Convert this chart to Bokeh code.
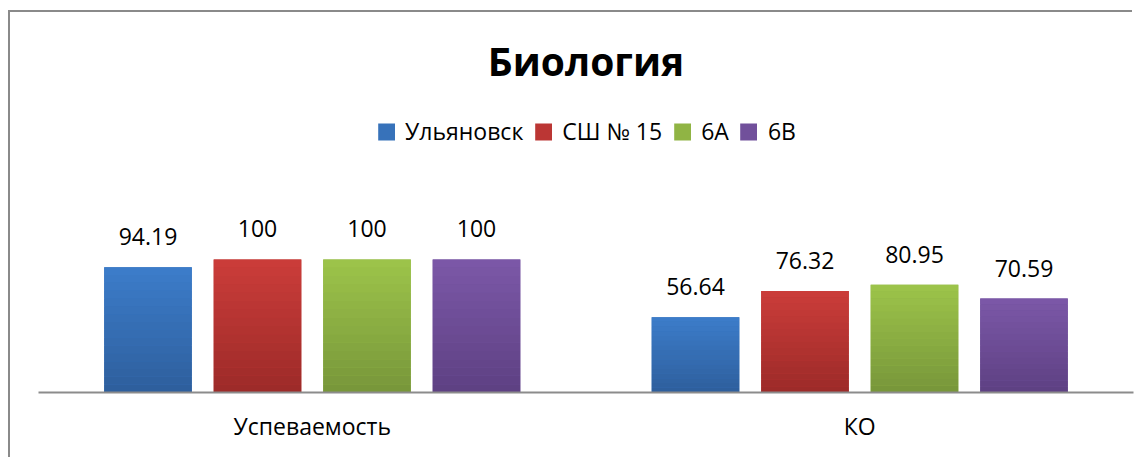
from bokeh.plotting import figure
from bokeh.models import (ColumnDataSource, FactorRange, Range1d, LabelSet,
                          Legend, LegendItem, Title)
from bokeh.core.properties import value
from bokeh.transform import dodge
from bokeh.embed import file_html
from bokeh.resources import INLINE

categories = ["Успеваемость", "КО"]
series = ["Ульяновск", "СШ № 15", "6А", "6В"]
ulyanovsk = [94.19, 56.64]
sh15 = [100, 76.32]
k6a = [100, 80.95]
k6v = [100, 70.59]
top_colors = ["#3C7DCA", "#CB3D3A", "#9DC44A", "#7C58A8"]
bottom_colors = ["#2E5E9C", "#9C2A28", "#77963A", "#5D4082"]

FONT = "Open Sans"
BANDS = 16


def hex2rgb(h):
    return tuple(int(h[i:i + 2], 16) for i in (1, 3, 5))


def mix(c1, c2, t):
    a, b = hex2rgb(c1), hex2rgb(c2)
    return "#%02x%02x%02x" % tuple(round(a[k] + (b[k] - a[k]) * t) for k in range(3))


values = [ulyanovsk, sh15, k6a, k6v]
data = {"cat": categories}
for i, v in enumerate(values):
    data[f"s{i}"] = v
    data[f"t{i}"] = [f"{x:g}" for x in v]
    for j in range(BANDS):
        data[f"b{i}_{j}"] = [x * j / BANDS for x in v]
        data[f"e{i}_{j}"] = [x * (j + 1) / BANDS for x in v]
src = ColumnDataSource(data)

p = figure(width=1148, height=457, output_backend="svg", toolbar_location=None,
           x_range=FactorRange(*categories), y_range=Range1d(0, 227),
           y_axis_location=None, min_border_top=90, min_border_bottom=65,
           min_border_left=38, min_border_right=15, outline_line_color=None,
           background_fill_color=None, border_fill_color=None)

# chart-area frame (top and left edges visible in the crop)
p.styles = {
    "background-color": "#ffffff",
    "background-image": "linear-gradient(#8a8a8a, #8a8a8a), linear-gradient(#8a8a8a, #8a8a8a)",
    "background-position": "8px 10px, 8px 10px",
    "background-size": "1124px 2px, 2px 447px",
    "background-repeat": "no-repeat, no-repeat",
}

p.title = Title(text="Биология", align="center", text_font=FONT,
                text_font_size="39px", text_font_style="bold",
                text_color="#000000", standoff=8)

offsets = [-0.3, -0.1, 0.1, 0.3]
items = []
for i in range(4):
    xs = dodge("cat", offsets[i], range=p.x_range)
    base = p.vbar(x=xs, top=f"s{i}", width=0.16, source=src,
                  fill_color=mix(top_colors[i], bottom_colors[i], 0.35),
                  line_color=None)
    for j in range(BANDS):
        p.vbar(x=xs, bottom=f"b{i}_{j}", top=f"e{i}_{j}", width=0.16, source=src,
               fill_color=mix(bottom_colors[i], top_colors[i], (j + 0.5) / BANDS),
               line_color=None)
    items.append(LegendItem(label=series[i], renderers=[base]))
    lab = LabelSet(x=xs, y=f"s{i}", text=f"t{i}", source=src,
                   text_align="center", text_baseline="alphabetic", y_offset=22,
                   text_font_size=value("23px"), text_font=value(FONT),
                   text_color="#000000")
    p.add_layout(lab)

legend = Legend(items=items, orientation="horizontal", location="top_center",
                margin=25, padding=0, spacing=9, label_standoff=9,
                glyph_width=21, glyph_height=21, border_line_color=None,
                background_fill_alpha=0, label_text_font=FONT,
                label_text_font_size="23px", label_text_color="#000000")
p.add_layout(legend, "center")

p.xgrid.grid_line_color = None
p.ygrid.grid_line_color = None
p.xaxis.axis_line_color = "#8C8C8C"
p.xaxis.axis_line_width = 2
p.xaxis.major_tick_line_color = None
p.xaxis.minor_tick_line_color = None
p.xaxis.major_label_standoff = 11
p.xaxis.major_label_text_font = FONT
p.xaxis.major_label_text_font_size = "23px"
p.xaxis.major_label_text_color = "#000000"

open("out.html", "w").write(file_html(p, INLINE))
